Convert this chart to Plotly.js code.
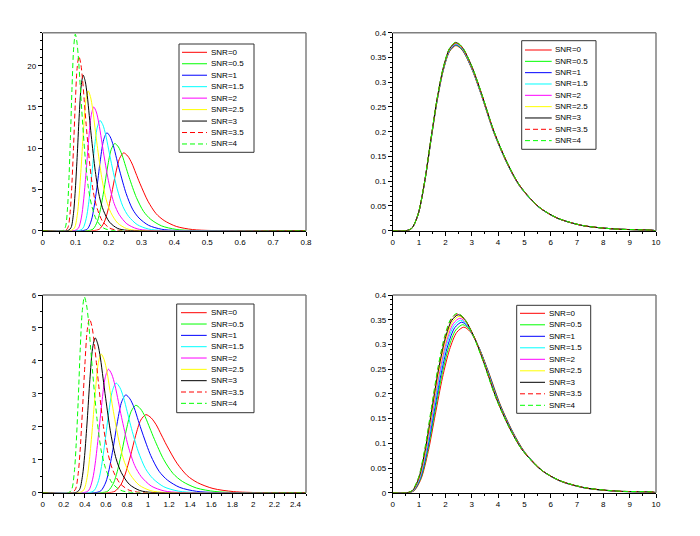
<!DOCTYPE html>
<html><head><meta charset="utf-8">
<script src="https://cdn.plot.ly/plotly-3.0.1.min.js"></script>
<style>html,body{margin:0;padding:0;background:#fff}#chart{width:700px;height:536px}</style>
</head><body><div id="chart"></div>
<script>
// ---- series labels ----
const snrLabels = ['SNR=0','SNR=0.5','SNR=1','SNR=1.5','SNR=2','SNR=2.5','SNR=3','SNR=3.5','SNR=4'];

// ---- top-left panel ----
const tlX = [
 [0,0.1525,0.1722,0.187,0.1968,0.2091,0.2214,0.2337,0.246,0.2583,0.2706,0.2829,0.2952,0.3198,0.3444,0.369,0.4059,0.4551,0.5166,0.8],
 [0,0.1358,0.1533,0.1664,0.1752,0.1862,0.1971,0.2081,0.219,0.23,0.2409,0.2519,0.2628,0.2847,0.3066,0.3285,0.3614,0.4052,0.4599,0.8],
 [0,0.1209,0.1365,0.1482,0.156,0.1658,0.1755,0.1853,0.195,0.2048,0.2145,0.2243,0.234,0.2535,0.273,0.2925,0.3218,0.3608,0.4095,0.8],
 [0,0.1079,0.1218,0.1322,0.1392,0.1479,0.1566,0.1653,0.174,0.1827,0.1914,0.2001,0.2088,0.2262,0.2436,0.261,0.2871,0.3219,0.3654,0.8],
 [0,0.0961,0.1085,0.1178,0.124,0.1318,0.1395,0.1473,0.155,0.1628,0.1705,0.1783,0.186,0.2015,0.217,0.2325,0.2558,0.2868,0.3255,0.8],
 [0,0.0856,0.0966,0.1049,0.1104,0.1173,0.1242,0.1311,0.138,0.1449,0.1518,0.1587,0.1656,0.1794,0.1932,0.207,0.2277,0.2553,0.2898,0.8],
 [0,0.0763,0.0861,0.0935,0.0984,0.1046,0.1107,0.1169,0.123,0.1292,0.1353,0.1415,0.1476,0.1599,0.1722,0.1845,0.203,0.2276,0.2583,0.8],
 [0,0.0682,0.077,0.0836,0.088,0.0935,0.099,0.1045,0.11,0.1155,0.121,0.1265,0.132,0.143,0.154,0.165,0.1815,0.2035,0.231,0.8],
 [0,0.0614,0.0693,0.0752,0.0792,0.0842,0.0891,0.0941,0.099,0.104,0.1089,0.1139,0.1188,0.1287,0.1386,0.1485,0.1634,0.1832,0.2079,0.8]
];
const tlY = [
 [0,0,0.19,1.04,2.26,4.43,6.88,8.77,9.43,9.05,8.2,6.98,5.75,3.58,2.07,1.23,0.52,0.14,0.02,0],
 [0,0,0.21,1.16,2.54,4.97,7.72,9.83,10.57,10.15,9.2,7.82,6.45,4.02,2.33,1.37,0.58,0.16,0.02,0],
 [0,0,0.24,1.31,2.85,5.58,8.67,11.04,11.87,11.4,10.33,8.78,7.24,4.51,2.61,1.54,0.65,0.18,0.02,0],
 [0,0,0.27,1.47,3.21,6.28,9.76,12.43,13.37,12.84,11.63,9.89,8.16,5.08,2.94,1.74,0.74,0.2,0.03,0],
 [0,0,0.3,1.65,3.6,7.05,10.95,13.95,15,14.4,13.05,11.1,9.15,5.7,3.3,1.95,0.83,0.23,0.03,0],
 [0,0,0.34,1.86,4.07,7.97,12.37,15.76,16.95,16.27,14.75,12.54,10.34,6.44,3.73,2.2,0.93,0.25,0.03,0],
 [0,0,0.38,2.07,4.53,8.86,13.77,17.54,18.86,18.11,16.41,13.96,11.5,7.17,4.15,2.45,1.04,0.28,0.04,0],
 [0,0,0.42,2.33,5.07,9.94,15.43,19.66,21.14,20.29,18.39,15.64,12.9,8.03,4.65,2.75,1.16,0.32,0.04,0],
 [0,0,0.48,2.62,5.72,11.2,17.39,22.15,23.82,22.87,20.72,17.63,14.53,9.05,5.24,3.1,1.31,0.36,0.05,0]
];

// ---- bottom-left panel ----
const blX = [
 [0,0.608,0.686,0.745,0.784,0.833,0.882,0.931,0.98,1.029,1.078,1.127,1.176,1.274,1.372,1.47,1.617,1.813,2.058,2.5],
 [0,0.548,0.619,0.672,0.707,0.751,0.796,0.84,0.884,0.928,0.972,1.017,1.061,1.149,1.238,1.326,1.459,1.635,1.856,2.5],
 [0,0.489,0.552,0.6,0.631,0.671,0.71,0.75,0.789,0.828,0.868,0.907,0.947,1.026,1.105,1.184,1.302,1.46,1.657,2.5],
 [0,0.432,0.488,0.53,0.558,0.592,0.627,0.662,0.697,0.732,0.767,0.802,0.836,0.906,0.976,1.046,1.15,1.289,1.464,2.5],
 [0,0.387,0.437,0.474,0.499,0.53,0.562,0.593,0.624,0.655,0.686,0.718,0.749,0.811,0.874,0.936,1.03,1.154,1.31,2.5],
 [0,0.344,0.389,0.422,0.444,0.472,0.5,0.527,0.555,0.583,0.611,0.638,0.666,0.722,0.777,0.833,0.916,1.027,1.166,2.5],
 [0,0.309,0.349,0.378,0.398,0.423,0.448,0.473,0.498,0.523,0.548,0.573,0.598,0.647,0.697,0.747,0.822,0.921,1.046,2.5],
 [0,0.275,0.311,0.337,0.355,0.377,0.4,0.422,0.444,0.466,0.488,0.511,0.533,0.577,0.622,0.666,0.733,0.821,0.932,2.5],
 [0,0.246,0.277,0.301,0.317,0.337,0.356,0.376,0.396,0.416,0.436,0.455,0.475,0.515,0.554,0.594,0.653,0.733,0.832,2.5]
];
const blY = [
 [0,0,0.047,0.261,0.569,1.114,1.73,2.204,2.37,2.275,2.062,1.754,1.446,0.901,0.521,0.308,0.13,0.036,0.005,0],
 [0,0,0.053,0.292,0.637,1.248,1.938,2.469,2.655,2.549,2.31,1.965,1.62,1.009,0.584,0.345,0.146,0.04,0.005,0],
 [0,0,0.059,0.327,0.713,1.396,2.168,2.762,2.97,2.851,2.584,2.198,1.812,1.129,0.653,0.386,0.163,0.045,0.006,0],
 [0,0,0.067,0.366,0.799,1.565,2.431,3.097,3.33,3.197,2.897,2.464,2.031,1.265,0.733,0.433,0.183,0.05,0.007,0],
 [0,0,0.075,0.413,0.9,1.763,2.738,3.488,3.75,3.6,3.263,2.775,2.288,1.425,0.825,0.488,0.206,0.056,0.008,0],
 [0,0,0.084,0.463,1.01,1.979,3.073,3.915,4.21,4.042,3.663,3.115,2.568,1.6,0.926,0.547,0.232,0.063,0.008,0],
 [0,0,0.094,0.517,1.128,2.209,3.431,4.371,4.7,4.512,4.089,3.478,2.867,1.786,1.034,0.611,0.259,0.071,0.009,0],
 [0,0,0.106,0.581,1.267,2.482,3.854,4.91,5.28,5.069,4.594,3.907,3.221,2.006,1.162,0.686,0.29,0.079,0.011,0],
 [0,0,0.119,0.653,1.426,2.792,4.336,5.524,5.94,5.702,5.168,4.396,3.623,2.257,1.307,0.772,0.327,0.089,0.012,0]
];

// ---- top-right panel ----
const trX = [0,0.504,0.72,0.96,1.2,1.44,1.68,1.92,2.16,2.4,2.64,3.0,3.36,3.84,4.32,4.8,5.52,6.24,7.2,8.4,9.84,10];
const trY = [
 [0,0,0.0045,0.0318,0.0935,0.1777,0.2599,0.3235,0.362,0.374,0.3647,0.3273,0.2749,0.1982,0.1384,0.0916,0.0486,0.0254,0.0105,0.0036,0.0009,0],
 [0,0,0.0045,0.0319,0.0938,0.1781,0.2606,0.3244,0.363,0.375,0.3656,0.3281,0.2756,0.1988,0.1388,0.0919,0.0488,0.0255,0.0105,0.0036,0.0009,0],
 [0,0,0.0045,0.032,0.094,0.1786,0.2613,0.3252,0.364,0.376,0.3666,0.329,0.2764,0.1993,0.1391,0.0921,0.0489,0.0256,0.0105,0.0036,0.0009,0],
 [0,0,0.0045,0.032,0.0943,0.1791,0.262,0.3261,0.3649,0.377,0.3676,0.3299,0.2771,0.1998,0.1395,0.0924,0.049,0.0256,0.0106,0.0036,0.0009,0],
 [0,0,0.0045,0.0321,0.0945,0.1796,0.2627,0.327,0.3659,0.378,0.3686,0.3308,0.2778,0.2003,0.1399,0.0926,0.0491,0.0257,0.0106,0.0036,0.0009,0],
 [0,0,0.0045,0.0322,0.0948,0.18,0.2634,0.3278,0.3669,0.379,0.3695,0.3316,0.2786,0.2009,0.1402,0.0929,0.0493,0.0258,0.0106,0.0036,0.0009,0],
 [0,0,0.0046,0.0323,0.095,0.1805,0.2641,0.3287,0.3678,0.38,0.3705,0.3325,0.2793,0.2014,0.1406,0.0931,0.0494,0.0258,0.0106,0.0036,0.001,0],
 [0,0,0.0046,0.0323,0.095,0.1805,0.2641,0.3287,0.3678,0.38,0.3705,0.3325,0.2793,0.2014,0.1406,0.0931,0.0494,0.0258,0.0106,0.0036,0.001,0],
 [0,0,0.0046,0.0324,0.0953,0.181,0.2648,0.3296,0.3688,0.381,0.3715,0.3334,0.28,0.2019,0.141,0.0933,0.0495,0.0259,0.0107,0.0036,0.001,0]
];

// ---- bottom-right panel ----
const brX = [
 [0,0.567,0.81,1.08,1.35,1.62,1.89,2.16,2.43,2.7,2.932,3.28,3.627,4.091,4.554,5.018,5.713,6.409,7.336,8.495,9.886,10],
 [0,0.559,0.798,1.064,1.33,1.596,1.862,2.128,2.394,2.66,2.893,3.243,3.593,4.06,4.526,4.993,5.693,6.393,7.326,8.493,9.892,10],
 [0,0.55,0.786,1.048,1.31,1.572,1.834,2.096,2.358,2.62,2.855,3.208,3.56,4.03,4.5,4.97,5.675,6.38,7.32,8.495,9.905,10],
 [0,0.542,0.774,1.032,1.29,1.548,1.806,2.064,2.322,2.58,2.816,3.171,3.526,3.998,4.471,4.944,5.653,6.362,7.308,8.49,9.908,10],
 [0,0.536,0.765,1.02,1.275,1.53,1.785,2.04,2.295,2.55,2.788,3.145,3.502,3.977,4.453,4.929,5.643,6.356,7.308,8.498,9.925,10],
 [0,0.529,0.756,1.008,1.26,1.512,1.764,2.016,2.268,2.52,2.759,3.119,3.478,3.956,4.435,4.914,5.632,6.35,7.308,8.505,9.941,10],
 [0,0.523,0.747,0.996,1.245,1.494,1.743,1.992,2.241,2.49,2.731,3.093,3.454,3.937,4.419,4.901,5.624,6.348,7.312,8.518,9.964,10],
 [0,0.519,0.741,0.988,1.235,1.482,1.729,1.976,2.223,2.47,2.713,3.076,3.44,3.925,4.41,4.895,5.623,6.35,7.32,8.533,9.988,10],
 [0,0.515,0.735,0.98,1.225,1.47,1.715,1.96,2.205,2.45,2.694,3.06,3.426,3.914,4.402,4.89,5.622,6.354,7.33,8.55,9.995,10]
];
const brY = [
 [0,0,0.004,0.0285,0.0838,0.1591,0.2328,0.2898,0.3243,0.335,0.3266,0.2931,0.2462,0.1776,0.124,0.0821,0.0436,0.0228,0.0094,0.0032,0.0008,0],
 [0,0,0.0041,0.0289,0.085,0.1615,0.2363,0.2941,0.3291,0.34,0.3315,0.2975,0.2499,0.1802,0.1258,0.0833,0.0442,0.0231,0.0095,0.0032,0.0009,0],
 [0,0,0.0041,0.0293,0.0863,0.1639,0.2398,0.2984,0.334,0.345,0.3364,0.3019,0.2536,0.1829,0.1277,0.0845,0.0449,0.0235,0.0097,0.0033,0.0009,0],
 [0,0,0.0042,0.0297,0.0873,0.1658,0.2426,0.3019,0.3378,0.349,0.3403,0.3054,0.2565,0.185,0.1291,0.0855,0.0454,0.0237,0.0098,0.0033,0.0009,0],
 [0,0,0.0042,0.03,0.0883,0.1677,0.2453,0.3053,0.3417,0.353,0.3442,0.3089,0.2595,0.1871,0.1306,0.0865,0.0459,0.024,0.0099,0.0034,0.0009,0],
 [0,0,0.0043,0.0303,0.0893,0.1696,0.2481,0.3088,0.3456,0.357,0.3481,0.3124,0.2624,0.1892,0.1321,0.0875,0.0464,0.0243,0.01,0.0034,0.0009,0],
 [0,0,0.0043,0.0306,0.09,0.171,0.2502,0.3114,0.3485,0.36,0.351,0.315,0.2646,0.1908,0.1332,0.0882,0.0468,0.0245,0.0101,0.0034,0.0009,0],
 [0,0,0.0043,0.0308,0.0905,0.172,0.2516,0.3131,0.3504,0.362,0.353,0.3168,0.2661,0.1919,0.1339,0.0887,0.0471,0.0246,0.0101,0.0034,0.0009,0],
 [0,0,0.0044,0.0309,0.0908,0.1724,0.2523,0.314,0.3514,0.363,0.3539,0.3176,0.2668,0.1924,0.1343,0.0889,0.0472,0.0247,0.0102,0.0034,0.0009,0]
];

// ---- styles ----
const lineColors = ['#ff0000','#00ff00','#0000ff','#00ffff','#ff00ff','#ffff00','#000000','#ff0000','#00ff00'];
const lineDash = ['solid','solid','solid','solid','solid','solid','solid','5px,3px','5px,3px'];

const W = 700, H = 536;
const FONT = 'Liberation Sans, Arial, Helvetica, sans-serif';
const px = v => v / W, py = v => 1 - v / H;

const traces = [];
function addPanel(xs, ys, xa, ya) {
  for (let i = 0; i < snrLabels.length; i++) {
    traces.push({
      type: 'scatter', mode: 'lines', name: snrLabels[i],
      x: Array.isArray(xs[0]) ? xs[i] : xs, y: ys[i],
      xaxis: xa, yaxis: ya, showlegend: false, hoverinfo: 'skip',
      line: {color: lineColors[i], width: 1, dash: lineDash[i], shape: 'spline', smoothing: 0.8}
    });
  }
}
addPanel(tlX, tlY, 'x', 'y');
addPanel(trX, trY, 'x2', 'y2');
addPanel(blX, blY, 'x3', 'y3');
addPanel(brX, brY, 'x4', 'y4');

function axis(domain, range, dtick, minor, anchor) {
  return {
    domain, range, dtick, tick0: 0, anchor, showgrid: false, zeroline: false,
    showline: true, linecolor: '#000', linewidth: 1, mirror: false,
    ticks: 'outside', ticklen: 4, tickwidth: 1, tickcolor: '#000',
    tickfont: {family: FONT, size: 8, color: '#000'},
    minor: {dtick: minor, tick0: 0, ticks: 'outside', ticklen: 2, tickwidth: 1, tickcolor: '#000', showgrid: false},
    fixedrange: true
  };
}
const xdL = [px(42.7), px(306)], xdR = [px(392.7), px(656)];
const ydT = [py(230.7), py(32.7)], ydB = [py(492.8), py(295)];

const shapes = [], annotations = [];
// top & right frame lines (grey)
[['x','y'],['x2','y2'],['x3','y3'],['x4','y4']].forEach(([xa, ya]) => {
  shapes.push({type:'line', xref:xa+' domain', yref:ya+' domain', x0:0, x1:1, y0:1, y1:1, line:{color:'#7f7f7f', width:1.5}});
  shapes.push({type:'line', xref:xa+' domain', yref:ya+' domain', x0:1, x1:1, y0:0, y1:1, line:{color:'#7f7f7f', width:1.5}});
});

// manual legends (box, first row y, row step, sample x0/x1, text x), in pixels
const legends = [
  {b:[179,44,254,152.3], y0:52.3, dy:11.46, s0:182, s1:207, tx:210},
  {b:[521.7,40.7,596,149.3], y0:50, dy:11.33, s0:525, s1:551.7, tx:554},
  {b:[176.7,304,254,412.7], y0:312.7, dy:11.33, s0:181, s1:206.7, tx:210},
  {b:[516.7,305.3,590.7,413.3], y0:313.3, dy:11.5, s0:520, s1:545, tx:548}
];
legends.forEach(L => {
  shapes.push({type:'rect', xref:'paper', yref:'paper', x0:px(L.b[0]), x1:px(L.b[2]), y0:py(L.b[3]), y1:py(L.b[1]),
    line:{color:'#333', width:1}, fillcolor:'rgba(255,255,255,0)'});
  for (let i = 0; i < snrLabels.length; i++) {
    const yy = L.y0 + i * L.dy;
    shapes.push({type:'line', xref:'paper', yref:'paper', x0:px(L.s0), x1:px(L.s1), y0:py(yy), y1:py(yy),
      line:{color: lineColors[i], width: 1, dash: lineDash[i]}});
    annotations.push({xref:'paper', yref:'paper', x:px(L.tx), y:py(yy), xanchor:'left', yanchor:'middle',
      text: snrLabels[i], showarrow:false, font:{family:FONT, size:8, color:'#000'}, borderpad:0});
  }
});

const layout = {
  width: W, height: H, margin: {l:0, r:0, t:0, b:0}, paper_bgcolor:'#fff', plot_bgcolor:'#fff',
  showlegend: false, font: {family: FONT, size: 8, color: '#000'},
  xaxis:  axis(xdL, [0, 0.8], 0.1, 0.05, 'y'),
  yaxis:  axis(ydT, [0, 24], 5, 1, 'x'),
  xaxis2: axis(xdR, [0, 10], 1, 0.5, 'y2'),
  yaxis2: axis(ydT, [0, 0.4], 0.05, 0.01, 'x2'),
  xaxis3: axis(xdL, [0, 2.5], 0.2, 0.1, 'y3'),
  yaxis3: axis(ydB, [0, 6], 1, 0.5, 'x3'),
  xaxis4: axis(xdR, [0, 10], 1, 0.5, 'y4'),
  yaxis4: axis(ydB, [0, 0.4], 0.05, 0.01, 'x4'),
  shapes, annotations
};
Plotly.newPlot('chart', traces, layout, {displayModeBar:false, staticPlot:true});
</script>
</body></html>
